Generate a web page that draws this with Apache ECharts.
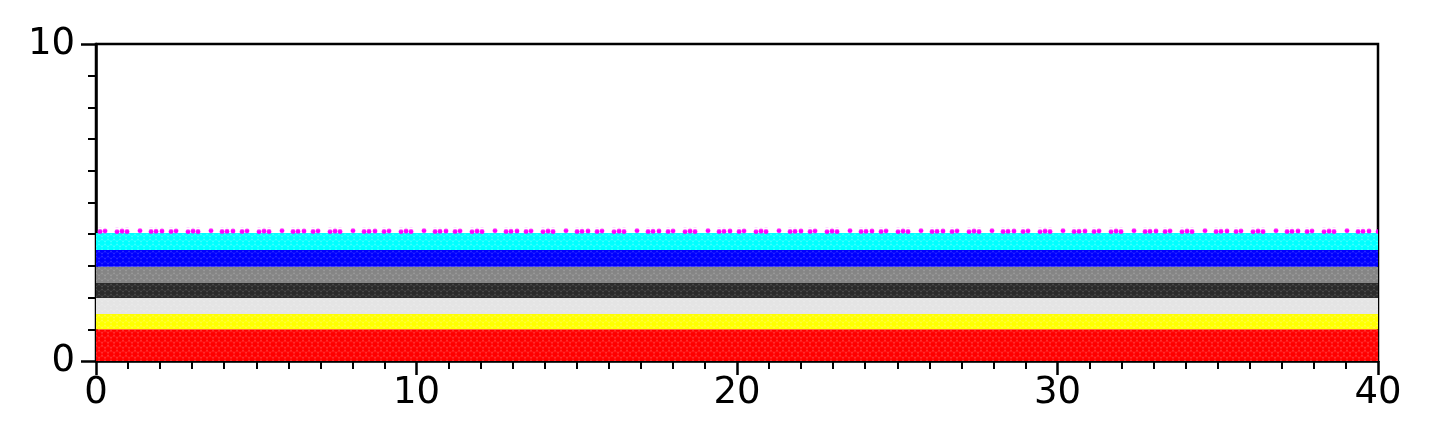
<!DOCTYPE html>
<head>
    <meta charset="utf-8"/>
    <style>
        html,body { height:100%; width:100%; margin:0; padding:0; background:#fff; }
    </style>
</head>
<body>
<div id="chart" style="width:1431px;height:447px"></div>

<script src="https://cdn.jsdelivr.net/npm/echarts@6/dist/echarts.min.js"></script>
<script type="text/javascript">

 // layers of particles, from the bottom up
 var layerNames  = ['red', 'yellow', 'lightgray', 'black', 'gray', 'blue', 'cyan', 'magenta'];
 var layerBottom = [0,     1.0,      1.48,        1.99,    2.46,   2.97,   3.5,    4.0];
 var layerTop    = [1.0,   1.48,     1.99,        2.46,    2.97,   3.5,    4.04,   4.22];
 var xStart = 0;
 var xEnd = 40;

 var xTicks = [0, 10, 20, 30, 40];
 var yTicks = [0, 10];

 // colours: particle colour, gap colour
 var layerColors = {
     red:       ['#ff0000', '#ffb0b0'],
     yellow:    ['#ffff00', '#fffcc0'],
     lightgray: ['#e4e4e4', '#f6f6f6'],
     black:     ['#2b2b2b', '#8a8a8a'],
     gray:      ['#858585', '#c4c4c4'],
     blue:      ['#0000ff', '#7a7aff'],
     cyan:      ['#00ffff', '#b8ffff'],
     magenta:   ['#ff00ff', null]
 };

 // small canvas tile that looks like packed grains
 function grainTile(col, gap){
     var c = document.createElement('canvas');
     c.width = 6; c.height = 10;
     var g = c.getContext('2d');
     g.fillStyle = gap; g.fillRect(0, 0, 6, 10);
     g.fillStyle = col;
     var pts = [[0,0],[6,0],[0,10],[6,10],[3,5]];
     for (var i = 0; i < pts.length; i++) {
         g.beginPath(); g.arc(pts[i][0], pts[i][1], 3.0, 0, Math.PI*2); g.fill();
     }
     return c;
 }
 // sparse grains lying on top of the pile
 function sparseTile(col){
     var c = document.createElement('canvas');
     c.width = 71; c.height = 7;
     var g = c.getContext('2d');
     g.fillStyle = col;
     var pts = [[4,4.4],[9,3.8],[21,4.6],[26,4.0],[31,4.5],[44,3.6],[55,4.4],[60,4.2],[66,3.9]];
     for (var i = 0; i < pts.length; i++) {
         g.beginPath(); g.arc(pts[i][0], pts[i][1], 2.4, 0, Math.PI*2); g.fill();
     }
     return c;
 }

 var tiles = [];
 var bands = [];
 for (var i = 0; i < layerNames.length; i++) {
     var cc = layerColors[layerNames[i]];
     tiles.push(cc[1] ? grainTile(cc[0], cc[1]) : sparseTile(cc[0]));
     bands.push([xStart, xEnd, layerBottom[i], layerTop[i]]);
 }

 var myChart = echarts.init(document.getElementById('chart'));

 var axisFont = { fontSize: 37, color: '#000', fontFamily: 'DejaVu Sans' };

 var option = {
     animation: false,
     grid: {
         left: 96, right: 53, top: 44, bottom: 86,
         show: true, borderColor: '#000', borderWidth: 2.5, backgroundColor: 'transparent'
     },
     xAxis: {
         type: 'value',
         min: xTicks[0], max: xTicks[xTicks.length-1], interval: 10,
         axisLine: { show: true, lineStyle: { color: '#000', width: 2.5 } },
         axisTick: { show: true, length: 14, lineStyle: { color: '#000', width: 2.5 } },
         minorTick: { show: true, splitNumber: 10, length: 8, lineStyle: { color: '#000', width: 2 } },
         splitLine: { show: false },
         axisLabel: Object.assign({ margin: 14 }, axisFont)
     },
     yAxis: {
         type: 'value',
         min: yTicks[0], max: yTicks[yTicks.length-1], interval: 10,
         axisLine: { show: true, lineStyle: { color: '#000', width: 2.5 } },
         axisTick: { show: true, length: 15, lineStyle: { color: '#000', width: 2.5 } },
         minorTick: { show: true, splitNumber: 10, length: 8, lineStyle: { color: '#000', width: 2 } },
         splitLine: { show: false },
         axisLabel: Object.assign({ margin: 21 }, axisFont)
     },
     series: [{
         type: 'custom',
         data: bands,
         encode: { x: [0, 1], y: [2, 3] },
         renderItem: function(params, api){
             var p0 = api.coord([api.value(0), api.value(3)]);
             var p1 = api.coord([api.value(1), api.value(2)]);
             return {
                 type: 'rect',
                 shape: { x: p0[0], y: p0[1], width: p1[0]-p0[0], height: p1[1]-p0[1] },
                 style: { fill: { image: tiles[params.dataIndex], repeat: 'repeat', x: p0[0], y: p0[1] } }
             };
         }
     }]
 };

 myChart.setOption(option);

</script>
</body>
